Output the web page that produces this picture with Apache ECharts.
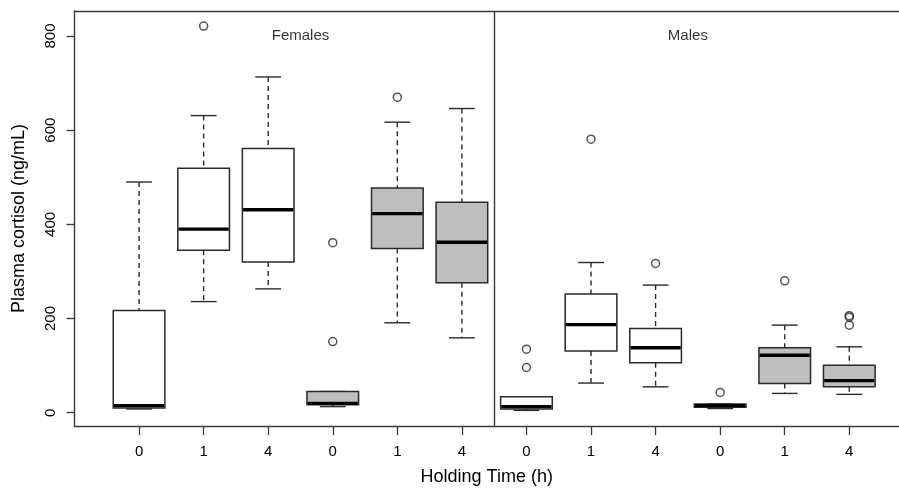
<!DOCTYPE html>
<html>
<head>
<meta charset="utf-8">
<script src="https://cdn.jsdelivr.net/npm/echarts@6/dist/echarts.min.js"></script>
<style>
html,body{margin:0;padding:0;background:#fff;}
#chart{width:899px;height:492px;}
</style>
</head>
<body>
<div id="chart"></div>
<script>
// ---- data ----
const panels = ['Females', 'Males'];
const timeLabels = ['0', '1', '4', '0', '1', '4', '0', '1', '4', '0', '1', '4'];
const yTicks = [0, 200, 400, 600, 800];
const lowWhisker  = [8,   236, 263, 13,  191, 159, 5,  63,  55,  9,    41,  39];
const q1          = [10,  345, 320, 17,  349, 276, 8,  131, 106, 11.5, 62,  55];
const median      = [15,  390, 431, 20,  423, 362, 13, 187, 138, 15,   122, 68];
const q3          = [217, 519, 561, 45,  477, 447, 34, 252, 179, 18.5, 138, 101];
const highWhisker = [490, 631, 713, 45,  617, 646, 34, 319, 271, 18.5, 186, 140];
const outlierPos  = [2,   4,   4,   5,   7,   7,  8,   9,   10, 11,  12,  12,  12];
const outlierVal  = [821, 361, 151, 670, 135, 96, 581, 317, 43, 280, 206, 203, 186];

// ---- build ----
const boxData = timeLabels.map((t, i) => [i + 1, lowWhisker[i], q1[i], median[i], q3[i], highWhisker[i]]);
const outData = outlierPos.map((p, i) => [p, outlierVal[i]]);
const perPanel = timeLabels.length / panels.length;
const panelLabelData = panels.map((p, k) => ({ name: p, value: [k * perPanel + (perPanel + 1) / 2, 800] }));
const dividers = panels.slice(1).map((p, k) => ({ xAxis: (k + 1) * perPanel + 0.5 }));
const posTicks = timeLabels.map((t, i) => i + 1);

const FONT = 'Liberation Sans, Arial, Helvetica, sans-serif';
const LINE = '#2a2a2a';
const TEXT = '#000';
const FRAME = { show: true, onZero: false, lineStyle: { color: '#3a3a3a', width: 1.4 } };

const chart = echarts.init(document.getElementById('chart'), null, { renderer: 'canvas' });
chart.setOption({
  animation: false,
  backgroundColor: '#fff',
  grid: { left: 74.5, right: 0, top: 11, bottom: 66, show: false, containLabel: false },
  xAxis: [{
    type: 'value', min: 0, max: 12.77, position: 'bottom',
    name: 'Holding Time (h)', nameLocation: 'middle', nameGap: 42,
    nameTextStyle: { fontSize: 18, color: TEXT, fontFamily: FONT },
    axisLine: FRAME,
    splitLine: { show: false },
    axisTick: { show: true, inside: false, length: 9, lineStyle: { color: '#3a3a3a', width: 1.3 }, customValues: posTicks },
    axisLabel: { customValues: posTicks, margin: 18, fontSize: 15, color: TEXT, fontFamily: FONT,
      formatter: v => timeLabels[Math.round(v) - 1] }
  }, {
    type: 'value', min: 0, max: 12.77, position: 'top',
    axisLine: FRAME, axisTick: { show: false }, axisLabel: { show: false }, splitLine: { show: false }
  }],
  yAxis: {
    type: 'value', min: -28.2, max: 853.1,
    name: 'Plasma cortisol (ng/mL)', nameLocation: 'middle', nameGap: 46, nameRotate: 90,
    nameTextStyle: { fontSize: 18, color: TEXT, fontFamily: FONT },
    axisLine: FRAME,
    splitLine: { show: false },
    axisTick: { show: true, inside: false, length: 8, lineStyle: { color: '#3a3a3a', width: 1.3 }, customValues: yTicks },
    axisLabel: { customValues: yTicks, rotate: 90, margin: 16, fontSize: 15, color: TEXT, fontFamily: FONT }
  },
  series: [
    {
      type: 'custom',
      data: boxData,
      encode: { x: 0, y: [1, 2, 3, 4, 5] },
      renderItem: function (params, api) {
        const x = api.value(0);
        const pLow = api.coord([x, api.value(1)]);
        const pQ1 = api.coord([x, api.value(2)]);
        const pMed = api.coord([x, api.value(3)]);
        const pQ3 = api.coord([x, api.value(4)]);
        const pHigh = api.coord([x, api.value(5)]);
        const unit = api.size([1, 0])[0];
        const cx = pLow[0];
        const bw = unit * 0.4, cw = unit * 0.2;
        const grey = Math.floor(params.dataIndex / 3) % 2 === 1;
        const fill = grey ? '#bebebe' : '#ffffff';
        const dash = { stroke: LINE, lineWidth: 1.4, lineDash: [5, 4] };
        const solid = { stroke: LINE, lineWidth: 1.4 };
        return {
          type: 'group',
          children: [
            { type: 'line', shape: { x1: cx, y1: pHigh[1], x2: cx, y2: pQ3[1] }, style: dash },
            { type: 'line', shape: { x1: cx, y1: pQ1[1], x2: cx, y2: pLow[1] }, style: dash },
            { type: 'line', shape: { x1: cx - cw, y1: pHigh[1], x2: cx + cw, y2: pHigh[1] }, style: solid },
            { type: 'line', shape: { x1: cx - cw, y1: pLow[1], x2: cx + cw, y2: pLow[1] }, style: solid },
            { type: 'rect', shape: { x: cx - bw, y: pQ3[1], width: 2 * bw, height: pQ1[1] - pQ3[1] },
              style: { fill: fill, stroke: LINE, lineWidth: 1.5 } },
            { type: 'line', shape: { x1: cx - bw + 0.7, y1: pMed[1], x2: cx + bw - 0.7, y2: pMed[1] },
              style: { stroke: '#000', lineWidth: 3.3 } }
          ]
        };
      },
      markLine: {
        silent: true, symbol: ['none', 'none'], label: { show: false },
        lineStyle: { color: '#3a3a3a', width: 1.4, type: 'solid' },
        data: dividers
      },
      z: 2
    },
    {
      type: 'scatter',
      data: outData,
      symbol: 'circle', symbolSize: 8,
      itemStyle: { color: 'rgba(255,255,255,0)', borderColor: LINE, borderWidth: 1.5 },
      z: 3
    },
    {
      type: 'scatter',
      data: panelLabelData,
      symbolSize: 0,
      label: { show: true, position: 'inside', formatter: '{b}', fontSize: 15, color: TEXT, fontFamily: FONT },
      z: 4
    }
  ]
});
</script>
</body>
</html>
